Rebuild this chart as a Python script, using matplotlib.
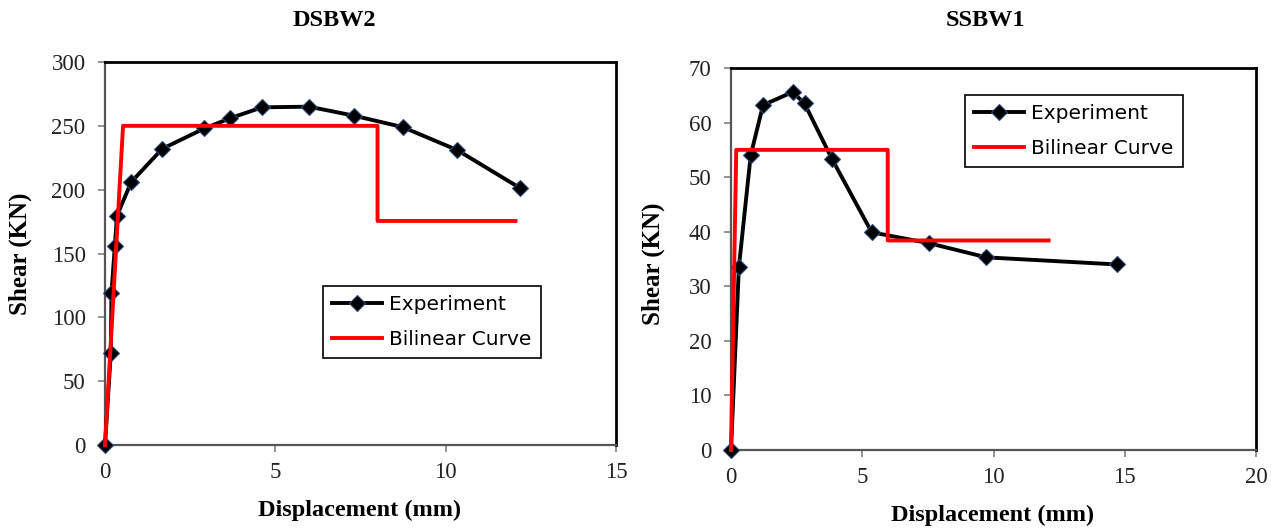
import matplotlib
matplotlib.use("Agg")
import matplotlib.pyplot as plt

# DSBW2 specimen: measured response and bilinear idealisation
dsbw2_disp = [0.0, 0.17, 0.19, 0.29, 0.35, 0.77, 1.68, 2.92, 3.68, 4.61, 5.99, 7.30, 8.74, 10.34, 12.17]
dsbw2_shear = [0, 72, 119, 156, 179.5, 206, 232, 248, 256, 264.5, 265, 258, 249, 231, 201.5]
dsbw2_bl_disp = [0.0, 0.53, 8.0, 8.0, 12.05]
dsbw2_bl_shear = [0, 250, 250, 175.5, 175.5]

# SSBW1 specimen
ssbw1_disp = [0.0, 0.30, 0.75, 1.22, 2.35, 2.80, 3.85, 5.36, 7.54, 9.73, 14.70]
ssbw1_shear = [0, 33.5, 54, 63.2, 65.6, 63.5, 53.3, 39.9, 37.9, 35.3, 34.0]
ssbw1_bl_disp = [0.0, 0.2, 5.97, 5.97, 12.1]
ssbw1_bl_shear = [0, 55, 55, 38.4, 38.4]

titles = ["DSBW2", "SSBW1"]
x_ticks = [[0, 5, 10, 15], [0, 5, 10, 15, 20]]
y_ticks = [[0, 50, 100, 150, 200, 250, 300], [0, 10, 20, 30, 40, 50, 60, 70]]

serif = "Liberation Serif"
W, H = 1282, 530
fig = plt.figure(figsize=(W / 100, H / 100), dpi=100)
ax1 = fig.add_axes([105 / W, 1 - 445 / H, 511 / W, 383 / H])
ax2 = fig.add_axes([731 / W, 1 - 450 / H, 525 / W, 382 / H])

panels = [
    (ax1, dsbw2_disp, dsbw2_shear, dsbw2_bl_disp, dsbw2_bl_shear),
    (ax2, ssbw1_disp, ssbw1_shear, ssbw1_bl_disp, ssbw1_bl_shear),
]
legend_pos = [(0.4266, 0.227), (0.445, 0.741)]
title_xy = [(334, 20), (985, 20)]
ylabel_xy = [(20, 254), (653, 264)]
xlabel_xy = [(360, 510), (993, 515)]

for i, (ax, dx, dy, bx, by) in enumerate(panels):
    ax.plot(dx, dy, color="black", lw=2.8, marker="D", markersize=7.8,
            markerfacecolor="black", markeredgecolor="#2b4a7a", markeredgewidth=0.8,
            label="Experiment", zorder=3, clip_on=False)
    ax.plot(bx, by, color="#ff0000", lw=2.8, label="Bilinear Curve", zorder=4,
            clip_on=False)
    ax.set_xlim(x_ticks[i][0], x_ticks[i][-1])
    ax.set_ylim(y_ticks[i][0], y_ticks[i][-1])
    ax.set_xticks(x_ticks[i])
    ax.set_yticks(y_ticks[i])
    for lbl in ax.get_xticklabels() + ax.get_yticklabels():
        lbl.set_fontfamily(serif)
        lbl.set_fontsize(16.5)
        lbl.set_color("#222222")
    ax.tick_params(direction="out", length=5, width=1.2, color="#808080")
    ax.tick_params(axis="y", pad=9)
    ax.tick_params(axis="x", pad=7)
    for side in ("top", "right"):
        ax.spines[side].set_color("black")
        ax.spines[side].set_linewidth(2.0)
    for side in ("left", "bottom"):
        ax.spines[side].set_color("#555555")
        ax.spines[side].set_linewidth(1.6)

    fig.text(title_xy[i][0] / W, 1 - title_xy[i][1] / H, titles[i],
             fontfamily=serif, fontweight="bold", fontsize=17.5,
             ha="center", va="center")
    fig.text(ylabel_xy[i][0] / W, 1 - ylabel_xy[i][1] / H, "Shear (KN)",
             fontfamily=serif, fontweight="bold", fontsize=18, rotation=90,
             ha="center", va="center")
    fig.text(xlabel_xy[i][0] / W, 1 - xlabel_xy[i][1] / H, "Displacement (mm)",
             fontfamily=serif, fontweight="bold", fontsize=17.5,
             ha="center", va="center")

    leg = ax.legend(loc="lower left", bbox_to_anchor=legend_pos[i], frameon=True,
                    fancybox=False, edgecolor="black", framealpha=1,
                    prop={"family": "DejaVu Sans", "size": 14.5}, handlelength=2.5,
                    handletextpad=0.35, borderpad=0.45, labelspacing=0.8,
                    borderaxespad=0)
    leg.get_frame().set_linewidth(1.2)

fig.savefig("out.png", dpi=100, facecolor="white")
